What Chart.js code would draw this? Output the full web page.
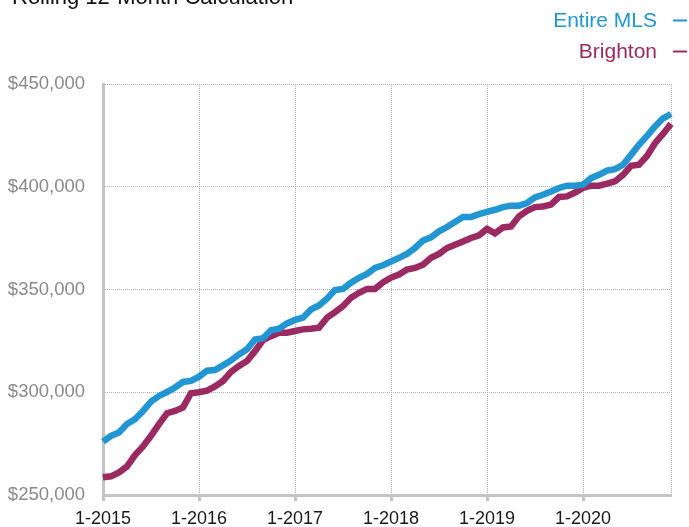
<!DOCTYPE html>
<html>
<head>
<meta charset="utf-8">
<script src="https://cdn.jsdelivr.net/npm/chart.js@4"></script>
<style>
  html, body { margin: 0; padding: 0; background: #fff; }
  #wrap { width: 689px; height: 527px; position: relative; }
</style>
</head>
<body>
<div id="wrap"><canvas id="price-chart" width="689" height="527"></canvas></div>
<script>
// Chart data
const chartTitle = 'Rolling 12-Month Calculation';
const years = [2015, 2016, 2017, 2018, 2019, 2020];
const seriesNames = ['Entire MLS', 'Brighton'];
const seriesColors = ['#2196d3', '#9b2a62'];

const entireMls = [
  276000, 278800, 280400, 284500, 286900, 290900, 295400, 298200, 300100, 302300, 305000, 305500,
  307600, 310500, 310800, 313100, 315500, 318400, 320900, 325700, 326300, 330200, 330900, 333500,
  335200, 336300, 340300, 342200, 345500, 349700, 350300, 353300, 355700, 357600, 360500, 361800,
  363600, 365400, 367300, 370200, 373800, 375400, 378300, 380400, 382900, 385300, 385300, 386700,
  387800, 388800, 390100, 390800, 390800, 392100, 394800, 396100, 397700, 399400, 400500, 400500,
  401000, 404200, 405800, 407900, 408600, 410700, 415500, 420400, 424800, 429300, 433300, 435400
];

const brighton = [
  258600, 259100, 261000, 263900, 269400, 273600, 278800, 284500, 289800, 290900, 292600, 299500,
  300000, 300800, 302800, 305500, 309900, 312800, 315200, 320000, 325400, 327300, 329000, 329000,
  329800, 330600, 330900, 331400, 336300, 339000, 341900, 346000, 348400, 350300, 350300, 353500,
  355800, 357300, 359700, 360500, 362100, 365400, 367300, 370200, 371800, 373400, 375100, 376400,
  379500, 377300, 380200, 380700, 385600, 388300, 390100, 390400, 391300, 395000, 395300, 397200,
  399400, 400500, 400500, 401500, 402600, 405800, 410200, 410700, 415000, 421200, 425700, 430600
];

// Month categories "1-2015" ... "12-2020"
const labels = [];
years.forEach(y => {
  for (let m = 1; m <= 12; m++) labels.push(m + '-' + y);
});

const FONT = "'Liberation Sans', Arial, Helvetica, sans-serif";
const lastIdx = labels.length - 1;

// Title (cut off at top) and legend on the right, drawn by hand
const headerPlugin = {
  id: 'header',
  afterDraw(chart) {
    const ctx = chart.ctx;
    ctx.save();
    ctx.fillStyle = '#111';
    ctx.font = '22px ' + FONT;
    ctx.textAlign = 'left';
    ctx.textBaseline = 'alphabetic';
    ctx.fillText(chartTitle, 12, 4);

    ctx.font = '21px ' + FONT;
    ctx.textAlign = 'right';
    chart.data.datasets.forEach((ds, i) => {
      const base = 27 + i * 31;
      ctx.fillStyle = ds.borderColor;
      ctx.fillText(ds.label, 657, base);
      ctx.strokeStyle = ds.borderColor;
      ctx.lineWidth = 2;
      ctx.beginPath();
      ctx.moveTo(673, base - 6.5);
      ctx.lineTo(687, base - 6.5);
      ctx.stroke();
    });
    ctx.restore();
  }
};

const isYearStart = idx => idx % 12 === 0;

const ctx = document.getElementById('price-chart').getContext('2d');
window.priceChart = new Chart(ctx, {
  type: 'line',
  data: {
    labels: labels,
    datasets: [{
      label: seriesNames[0],
      data: entireMls,
      borderColor: seriesColors[0],
      backgroundColor: seriesColors[0],
      borderWidth: 6.5,
      pointRadius: 0,
      tension: 0,
      fill: false
    }, {
      label: seriesNames[1],
      data: brighton,
      borderColor: seriesColors[1],
      backgroundColor: seriesColors[1],
      borderWidth: 6.5,
      pointRadius: 0,
      tension: 0,
      fill: false
    }]
  },
  options: {
    responsive: false,
    animation: false,
    devicePixelRatio: 1,
    layout: { padding: { top: 84, right: 18, bottom: 0, left: 0 } },
    plugins: {
      legend: { display: false },
      title: { display: false },
      tooltip: { enabled: false }
    },
    scales: {
      x: {
        type: 'category',
        offset: false,
        afterFit: s => { s.height = 32; },
        border: { display: true, color: '#c4c4c4', width: 3, dash: [1, 1] },
        grid: {
          color: c => (isYearStart(c.index) || c.index === lastIdx) ? '#b0b0b0' : 'rgba(0,0,0,0)',
          lineWidth: 1,
          drawTicks: true,
          tickLength: 6,
          tickWidth: 3,
          tickColor: c => isYearStart(c.index) ? '#c4c4c4' : 'rgba(0,0,0,0)',
          tickBorderDash: []
        },
        ticks: {
          autoSkip: false,
          maxRotation: 0,
          minRotation: 0,
          padding: 7,
          color: '#1a1a1a',
          font: { family: FONT, size: 18 },
          callback: function(value, index) {
            return isYearStart(index) ? this.getLabelForValue(value) : '';
          }
        }
      },
      y: {
        min: 250000,
        max: 450000,
        afterFit: s => { s.width = 103; },
        border: { display: true, color: '#c4c4c4', width: 3, dash: [1, 1] },
        grid: {
          color: '#b0b0b0',
          lineWidth: 1,
          drawTicks: false
        },
        ticks: {
          stepSize: 50000,
          padding: 18,
          color: '#8a8a8a',
          font: { family: FONT, size: 18.5 },
          callback: v => '$' + v.toLocaleString('en-US')
        }
      }
    }
  },
  plugins: [headerPlugin]
});
</script>
</body>
</html>
